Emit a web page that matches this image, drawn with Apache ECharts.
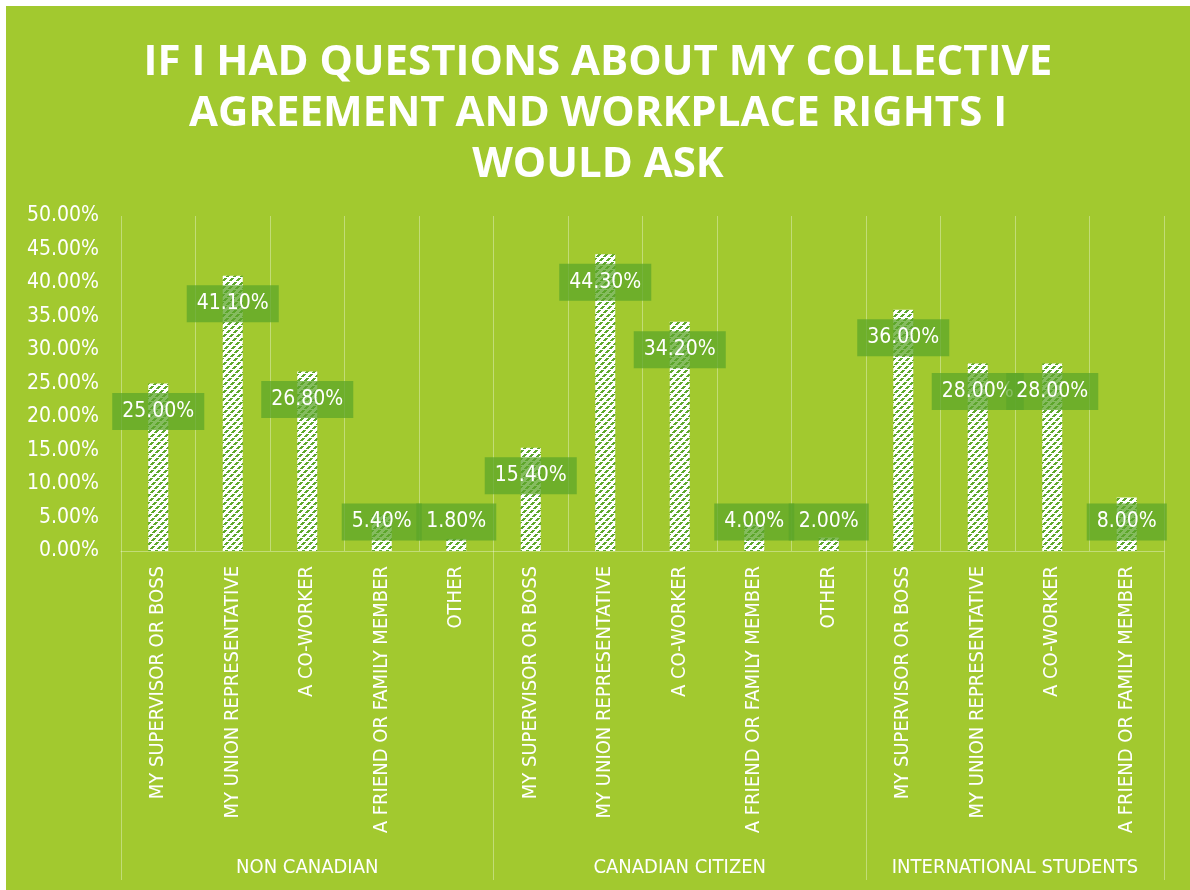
<!DOCTYPE html>
<html>
<head>
<meta charset="utf-8">
<script src="https://cdn.jsdelivr.net/npm/echarts@6/dist/echarts.min.js"></script>
<style>
  html, body { margin: 0; padding: 0; background: #ffffff; }
  #chart { position: absolute; left: 6px; top: 6px; width: 1184px; height: 884px; }
</style>
</head>
<body>
<div id="chart"></div>
<script>
// Survey: who respondents would ask about their collective agreement and rights
const titleText = 'IF I HAD QUESTIONS ABOUT MY COLLECTIVE\nAGREEMENT AND WORKPLACE RIGHTS I\nWOULD ASK';

const groupNames = ['NON CANADIAN', 'CANADIAN CITIZEN', 'INTERNATIONAL STUDENTS'];
const groupSizes = [5, 5, 4];

const categories = [
  'MY SUPERVISOR OR BOSS', 'MY UNION REPRESENTATIVE', 'A CO-WORKER', 'A FRIEND OR FAMILY MEMBER', 'OTHER',
  'MY SUPERVISOR OR BOSS', 'MY UNION REPRESENTATIVE', 'A CO-WORKER', 'A FRIEND OR FAMILY MEMBER', 'OTHER',
  'MY SUPERVISOR OR BOSS', 'MY UNION REPRESENTATIVE', 'A CO-WORKER', 'A FRIEND OR FAMILY MEMBER'
];

const shares = [25.0, 41.1, 26.8, 5.4, 1.8, 15.4, 44.3, 34.2, 4.0, 2.0, 36.0, 28.0, 28.0, 8.0];

const yMin = 0;
const yMax = 50;
const yStep = 5;

// Group boundaries and centres along a 0..N value axis laid over the categories
const groupEdges = [0];
groupSizes.forEach(function (n) { groupEdges.push(groupEdges[groupEdges.length - 1] + n); });
const groupCentres = groupSizes.map(function (n, i) { return groupEdges[i] + n / 2; });

const BG = '#a2c92f';
const LINE = 'rgba(255,255,255,0.35)';
const STRIPE = '#5ea82c';
const FONT = '"Liberation Sans Narrow", "DejaVu Sans Condensed", "Noto Sans", sans-serif';

// White fill with dashed upward-diagonal stripes
function makeStripeTile() {
  const n = 28;
  const c = document.createElement('canvas');
  c.width = n; c.height = n;
  const ctx = c.getContext('2d');
  ctx.fillStyle = '#ffffff';
  ctx.fillRect(0, 0, n, n);
  ctx.fillStyle = STRIPE;
  for (let y = 0; y < n; y++) {
    for (let x = 0; x < n; x++) {
      const onLine = ((x + y) % 7) < 3;
      const dashOn = (y % 4) !== 3;
      if (onLine && dashOn) ctx.fillRect(x, y, 1, 1);
    }
  }
  return c;
}

const chart = echarts.init(document.getElementById('chart'), null, { renderer: 'canvas' });

const option = {
  backgroundColor: BG,
  animation: false,
  title: {
    text: titleText,
    left: 'center',
    top: 27,
    textStyle: {
      color: '#ffffff',
      fontFamily: '"Open Sans", "DejaVu Sans", sans-serif',
      fontWeight: 'bold',
      fontSize: 42,
      lineHeight: 51
    }
  },
  grid: { left: 115, right: 26, top: 210, bottom: 339, containLabel: false },
  xAxis: [
    {
      type: 'category',
      data: categories,
      boundaryGap: true,
      axisLine: { show: true, lineStyle: { color: LINE, width: 1 } },
      axisTick: { show: false },
      splitLine: { show: true, interval: 0, lineStyle: { color: LINE, width: 1 } },
      axisLabel: {
        interval: 0,
        rotate: 90,
        margin: 15,
        color: '#ffffff',
        fontFamily: FONT,
        fontSize: 20
      }
    },
    {
      type: 'value',
      position: 'bottom',
      min: 0,
      max: categories.length,
      interval: 0.5,
      axisLine: { show: false },
      splitLine: { show: false },
      axisTick: {
        show: true,
        customValues: groupEdges,
        length: 329,
        lineStyle: { color: LINE, width: 1 }
      },
      axisLabel: {
        show: true,
        customValues: groupCentres,
        margin: 307,
        color: '#ffffff',
        fontFamily: FONT,
        fontSize: 20,
        formatter: function (v) {
          const i = groupCentres.indexOf(v);
          return i >= 0 ? groupNames[i] : '';
        }
      }
    }
  ],
  yAxis: {
    type: 'value',
    min: yMin,
    max: yMax,
    interval: yStep,
    axisLine: { show: false },
    axisTick: { show: false },
    splitLine: { show: false },
    axisLabel: {
      margin: 22,
      color: '#ffffff',
      fontFamily: FONT,
      fontSize: 21,
      formatter: function (v) { return v.toFixed(2) + '%'; }
    }
  },
  series: [
    {
      type: 'bar',
      xAxisIndex: 0,
      yAxisIndex: 0,
      data: shares,
      barWidth: 20,
      itemStyle: {
        color: { image: makeStripeTile(), repeat: 'repeat' }
      },
      label: {
        show: true,
        position: 'insideTop',
        color: '#ffffff',
        fontFamily: FONT,
        fontSize: 21,
        lineHeight: 25,
        padding: [6, 10, 6, 10],
        backgroundColor: 'rgba(92,166,42,0.75)',
        formatter: function (p) { return p.value.toFixed(2) + '%'; }
      },
      labelLayout: function (p) {
        const r = p.rect;
        const cy = Math.min(r.y + 28, r.y + r.height - 29);
        return {
          x: r.x + r.width / 2,
          y: cy,
          align: 'center',
          verticalAlign: 'middle'
        };
      }
    }
  ]
};

chart.setOption(option);
</script>
</body>
</html>
